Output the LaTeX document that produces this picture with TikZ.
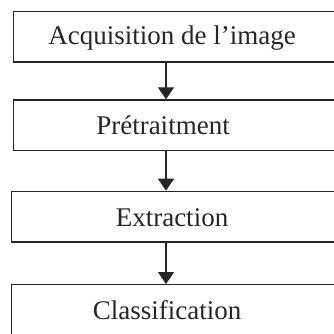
\documentclass[tikz,border=0pt]{standalone}
\usepackage{fontspec}
\setmainfont{Liberation Serif}
\usetikzlibrary{arrows.meta}
\begin{document}
\begin{tikzpicture}[x=1pt,y=-1pt,
  stagebox/.style={draw=black!85,line width=1.3pt,rectangle,minimum height=50.5pt,anchor=north west,inner sep=0pt,minimum width=340pt},
  stagetext/.style={text=black!85,font=\fontsize{27}{30}\selectfont,inner sep=0pt,anchor=base},
  flow/.style={draw=black!85,line width=1.3pt,-{Triangle[width=16pt,length=12pt]}}]
  \useasboundingbox (0,0) rectangle (334,333);
  \begin{scope}
  \clip (0,0) rectangle (334,333);
  \node[stagebox] (b1) at (13,10.7) {};
  \node[stagebox] (b2) at (13,99.3) {};
  \node[stagebox] (b3) at (11,190.7) {};
  \node[stagebox] (b4) at (11,284) {};
  \end{scope}
  \node[stagetext] (t1) at (172,44) {Acquisition de l’image};
  \node[stagetext] (t2) at (163,134) {Prétraitment};
  \node[stagetext] (t3) at (172,226) {Extraction};
  \node[stagetext] (t4) at (167,319) {Classification};
  \coordinate (axis) at (166,0);
  \draw[flow] (b1.south -| axis) -- (b2.north -| axis);
  \draw[flow] (b2.south -| axis) -- (b3.north -| axis);
  \draw[flow] (b3.south -| axis) -- (b4.north -| axis);
\end{tikzpicture}
\end{document}
